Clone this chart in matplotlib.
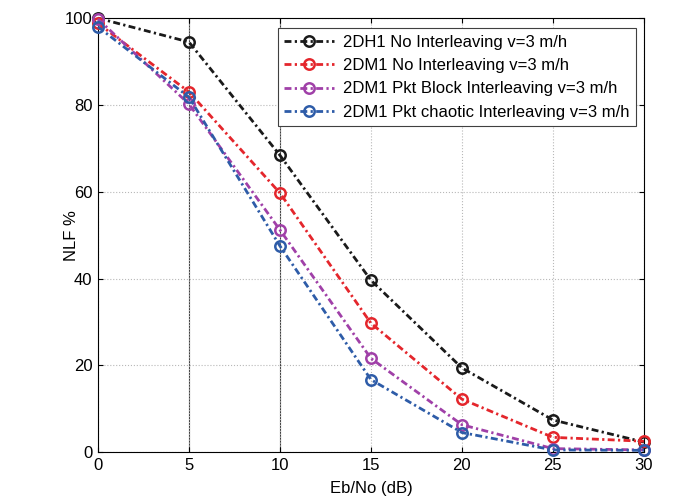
import numpy as np
import matplotlib.pyplot as plt

plt.rcParams['font.family'] = ['Liberation Sans', 'DejaVu Sans']

ebno = [0, 5, 10, 15, 20, 25, 30]
dh1_noil = [100, 94.5, 68.4, 39.6, 19.4, 7.4, 2.3]
dm1_noil = [98.8, 83.0, 59.7, 29.7, 12.2, 3.4, 2.5]
dm1_block = [99.8, 80.2, 51.2, 21.6, 6.3, 0.8, 0.5]
dm1_chaotic = [98.0, 81.8, 47.5, 16.7, 4.5, 0.5, 0.4]

labels = ['2DH1 No Interleaving v=3 m/h',
          '2DM1 No Interleaving v=3 m/h',
          '2DM1 Pkt Block Interleaving v=3 m/h',
          '2DM1 Pkt chaotic Interleaving v=3 m/h']
colors = ['#1a1a1a', '#e4262c', '#a040a8', '#2e5ca8']

fig = plt.figure(figsize=(6.85, 5.04), dpi=100)
ax = fig.add_axes([0.143, 0.103, 0.797, 0.861])

for ys, c, lab in zip([dh1_noil, dm1_noil, dm1_block, dm1_chaotic], colors, labels):
    ax.plot(ebno, ys, color=c, linestyle=(0, (2.5, 1.2, 0.8, 1.2)), linewidth=2,
            marker='o', markersize=7.5, markerfacecolor='none',
            markeredgewidth=1.8, label=lab, clip_on=False, zorder=3)

ax.set_xlim(0, 30)
ax.set_ylim(0, 100)
ax.set_xticks(np.arange(0, 31, 5))
ax.set_yticks(np.arange(0, 101, 20))
ax.grid(True, color='#b8b8b8', linestyle=':', linewidth=0.8)
for xv in (5, 10):
    ax.axvline(xv, color='#404040', linewidth=0.8, zorder=1)
ax.tick_params(direction='in', labelsize=12, top=True, right=True, pad=4)
ax.set_xlabel('Eb/No (dB)', fontsize=12)
ax.set_ylabel('NLF %', fontsize=12)
ax.xaxis.set_label_coords(0.5, -0.066)
ax.yaxis.set_label_coords(-0.034, 0.5)

leg = ax.legend(loc='upper right', fontsize=12, fancybox=False,
                edgecolor='#404040', framealpha=1, handlelength=3.0,
                borderpad=0.4, labelspacing=0.5, handletextpad=0.5,
                borderaxespad=0, bbox_to_anchor=(0.985, 0.977))
leg.get_frame().set_linewidth(0.8)

plt.savefig('out.png', dpi=100)
